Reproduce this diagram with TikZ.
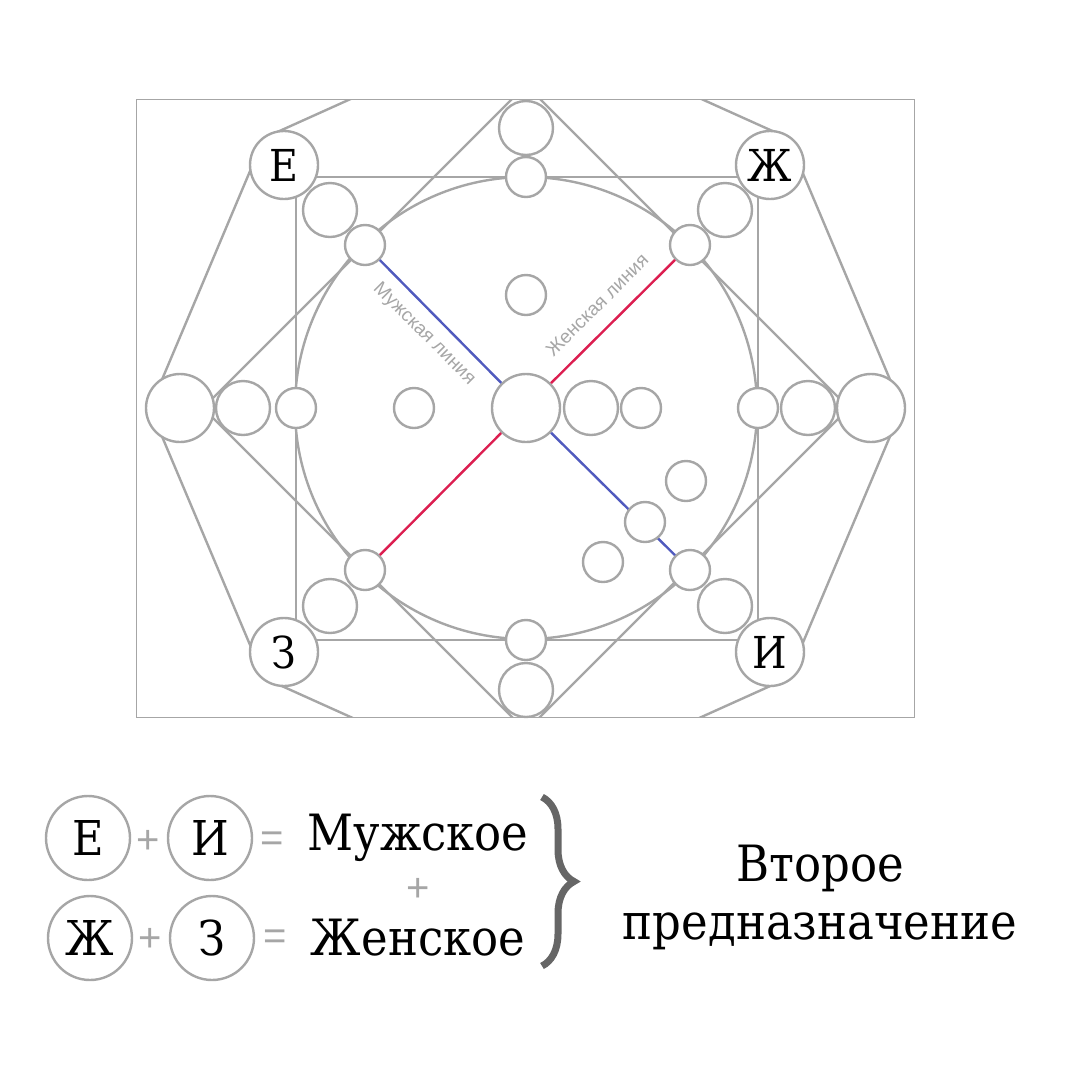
\documentclass[tikz,border=0pt]{standalone}
\usepackage{fontspec}
\setmainfont{DejaVu Serif Condensed}
\newfontfamily\lblfont{Liberation Sans}
\usetikzlibrary{decorations.pathreplacing}
\definecolor{lg}{RGB}{166,166,166}
\definecolor{bl}{RGB}{80,90,190}
\definecolor{rd}{RGB}{220,30,80}
\tikzset{
  ln/.style={draw=lg,line width=2.4pt},
  cc/.style={circle,draw=lg,line width=2.4pt,fill=white,inner sep=0pt},
  big/.style={cc,minimum size=68pt,font=\fontsize{44}{44}\selectfont},
  mid/.style={cc,minimum size=54pt},
  sml/.style={cc,minimum size=40pt},
  leg/.style={cc,minimum size=84pt,font=\fontsize{48}{48}\selectfont},
  word/.style={font=\fontsize{50}{50}\selectfont,inner sep=0pt},
  op/.style={text=lg,font=\lblfont\fontsize{40}{40}\selectfont,inner sep=0pt},
  lbl/.style={text=lg,font=\lblfont\fontsize{19}{19}\selectfont,inner sep=0pt}
}
\begin{document}
\begin{tikzpicture}[x=1pt,y=-1pt]
\useasboundingbox (0,0) rectangle (1080,1080);
\draw[lg,line width=1pt] (136,99) rectangle (914,717);
\begin{scope}
\clip (136,99) rectangle (914,717);
\draw[ln] (526,20)--(788,138)--(902,408)--(788,678)--(526,796)--(264,678)--(150,408)--(264,138)--cycle;
\draw[ln] (526,85)--(849,408)--(526,731)--(203,408)--cycle;
\end{scope}
\draw[ln] (296,177) rectangle (758,640);
\draw[ln] (526,408) circle[radius=231];
\node[sml] (m1) at (365,245) {};
\node[sml] (f1) at (690,245) {};
\node[sml] (f2) at (365,570) {};
\node[sml] (m2) at (690,570) {};
\node[big] (c) at (526,408) {};
\draw[bl,line width=2.4pt] (m1)--(c) (c)--(m2);
\draw[rd,line width=2.4pt] (f1)--(c) (c)--(f2);
\node[sml] at (645,522) {};
\node[lbl,rotate=-45] (ml) at (424,334) {Мужская линия};
\node[lbl,rotate=45] (fl) at (597,305) {Женская линия};
\node[big] (E) at (284,165) {Е};
\node[big] (Zh) at (770,165) {Ж};
\node[big] (Z) at (284,652) {З};
\node[big] (I) at (770,652) {И};
\node[big] at (180,408) {};
\node[big] at (871,408) {};
\node[mid] at (526,128) {};
\node[sml] at (526,177) {};
\node[sml] at (526,640) {};
\node[mid] at (526,690) {};
\node[mid] at (243,408) {};
\node[sml] at (296,408) {};
\node[mid] at (808,408) {};
\node[sml] at (758,408) {};
\node[mid] at (330,210) {};
\node[mid] at (725,210) {};
\node[mid] at (330,606) {};
\node[mid] at (725,606) {};
\node[mid] at (591,408) {};
\node[sml] at (641,408) {};
\node[sml] at (414,408) {};
\node[sml] at (526,295) {};
\node[sml] at (686,481) {};
\node[sml] at (603,562) {};
% legend
\node[leg] (lE) at (88,838) {Е};
\node[leg] (lI) at (210,838) {И};
\node[leg] (lZh) at (90,938) {Ж};
\node[leg] (lZ) at (212,938) {З};
\node[op] (p1) at (148,842) {+};
\node[op] (p2) at (150,940) {+};
\node[op] (e1) at (272,842) {=};
\node[op] (e2) at (275,940) {=};
\node[word] (mu) at (418,838) {Мужское};
\node[op] (p3) at (418,890) {+};
\node[word] (zh) at (418,938) {Женское};
\coordinate (b1) at (542,797);
\coordinate (b2) at (542,966);
\draw[decorate,decoration={brace,amplitude=32pt},draw=black!60,line width=7pt] (b1)--(b2);
\node[word,align=center] (v) at (820,897) {Второе\\[8pt]предназначение};
\end{tikzpicture}
\end{document}
